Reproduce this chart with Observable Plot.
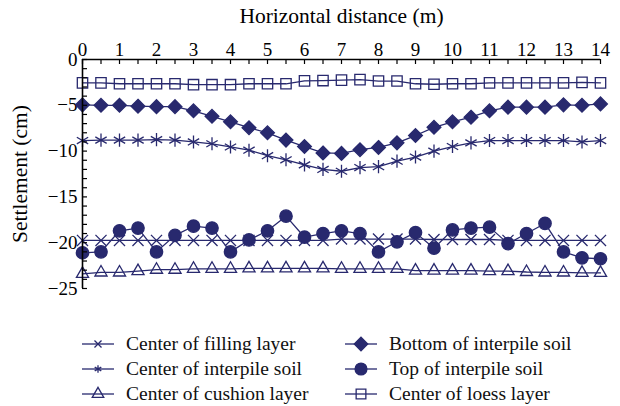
<!DOCTYPE html>
<html>
<head>
<meta charset="utf-8">
<script src="https://cdn.jsdelivr.net/npm/d3@7"></script>
<script src="https://cdn.jsdelivr.net/npm/@observablehq/plot@0.6"></script>
<style>
  html, body { margin: 0; padding: 0; background: #fff; }
  body { width: 620px; height: 406px; overflow: hidden; font-family: "Liberation Serif", "Times New Roman", "DejaVu Serif", serif; }
  #legend { display: grid; grid-template-columns: 263px 270px; grid-auto-rows: 25px; padding-left: 82px; margin-top: 31px; }
  .item { display: flex; align-items: center; font-size: 19.5px; color: #111; white-space: nowrap; }
  .item svg { margin-right: 12px; flex: none; }
  #chart svg text { font-family: "Liberation Serif", "Times New Roman", "DejaVu Serif", serif; }
</style>
</head>
<body>
<div id="chart"></div>
<div id="legend"></div>
<script>
// ---- data ----
const distance = [0,0.5,1,1.5,2,2.5,3,3.5,4,4.5,5,5.5,6,6.5,7,7.5,8,8.5,9,9.5,10,10.5,11,11.5,12,12.5,13,13.5,14];
const centerFillingLayer = [-19.75,-19.75,-19.75,-19.75,-19.75,-19.75,-19.75,-19.75,-19.75,-19.75,-19.75,-19.75,-19.75,-19.75,-19.6,-19.6,-19.6,-19.6,-19.6,-19.65,-19.65,-19.65,-19.65,-19.75,-19.75,-19.75,-19.75,-19.75,-19.75];
const centerInterpileSoil = [-8.85,-8.8,-8.8,-8.8,-8.75,-8.8,-9.0,-9.2,-9.55,-9.9,-10.5,-10.95,-11.5,-12.0,-12.2,-11.8,-11.7,-11.1,-10.65,-10.0,-9.5,-9.1,-8.85,-8.85,-8.85,-8.85,-8.85,-9.0,-8.85];
const centerCushionLayer = [-23.4,-23.25,-23.25,-23.1,-22.95,-22.95,-22.85,-22.85,-22.85,-22.8,-22.8,-22.8,-22.8,-22.8,-22.85,-22.85,-22.85,-22.85,-23.05,-23.05,-23.05,-23.05,-23.1,-23.1,-23.2,-23.25,-23.25,-23.3,-23.3];
const bottomInterpileSoil = [-4.95,-5.0,-5.0,-5.1,-5.15,-5.15,-5.6,-6.2,-6.8,-7.45,-8.0,-8.8,-9.5,-10.2,-10.25,-9.85,-9.6,-9.1,-8.3,-7.4,-6.8,-6.3,-5.6,-5.2,-5.2,-5.2,-4.95,-5.0,-4.85];
const topInterpileSoil = [-21.1,-21.0,-18.7,-18.4,-21.0,-19.2,-18.2,-18.4,-21.0,-19.7,-18.7,-17.1,-19.4,-19.0,-18.7,-19.0,-21.0,-19.9,-18.9,-20.6,-18.6,-18.4,-18.3,-20.1,-19.0,-17.9,-21.0,-21.65,-21.75];
const centerLoessLayer = [-2.55,-2.55,-2.65,-2.65,-2.65,-2.65,-2.75,-2.75,-2.75,-2.65,-2.65,-2.65,-2.33,-2.3,-2.25,-2.2,-2.35,-2.35,-2.65,-2.7,-2.65,-2.65,-2.55,-2.55,-2.55,-2.55,-2.55,-2.5,-2.55];

const seriesNames = ["Center of filling layer","Center of interpile soil","Center of cushion layer","Bottom of interpile soil","Top of interpile soil","Center of loess layer"];
const xTickLabels = [0,1,2,3,4,5,6,7,8,9,10,11,12,13,14];
const xMinorTicks = d3.range(0, 14.01, 0.5);
const yTickLabels = [0,-5,-10,-15,-20,-25];
const yMinorTicks = d3.range(0, -25.01, -1);

// ---- styling ----
const navy = "#28296e";
const serif = "'Liberation Serif', 'Times New Roman', 'DejaVu Serif', serif";
const W = 620, H = 300, ML = 82, MR = 20, MT = 59, MB = 12;
const styles = [
  {symbol: "times",     d3sym: d3.symbolTimes,     r: 5.1, fill: "none", lsize: 34},
  {symbol: "asterisk",  d3sym: d3.symbolAsterisk,  r: 6.2, fill: "none", lsize: 40},
  {symbol: "triangle2", d3sym: d3.symbolTriangle2, r: 5.8, fill: "none", lsize: 95},
  {symbol: "diamond2",  d3sym: d3.symbolDiamond2,  r: 6.2, fill: navy,   lsize: 115},
  {symbol: "circle",    d3sym: d3.symbolCircle,    r: 6.2, fill: navy,   lsize: 110},
  {symbol: "square2",   d3sym: d3.symbolSquare2,   r: 6.6, fill: "none", lsize: 120}
];
const valuesList = [centerFillingLayer, centerInterpileSoil, centerCushionLayer, bottomInterpileSoil, topInterpileSoil, centerLoessLayer];

const marks = [];
valuesList.forEach((vals, i) => {
  const rows = distance.map((x, j) => ({x, y: vals[j], name: seriesNames[i]}));
  marks.push(Plot.line(rows, {x: "x", y: "y", stroke: navy, strokeWidth: 1.3}));
  marks.push(Plot.dot(rows, {x: "x", y: "y", symbol: styles[i].symbol, r: styles[i].r,
    fill: styles[i].fill, stroke: navy, strokeWidth: 1.3}));
});
// inward ticks and axis lines
marks.push(Plot.tickX(xMinorTicks, {x: d => d, stroke: "#000", strokeWidth: 1.2, insetBottom: (H - MT - MB) - 5}));
marks.push(Plot.tickY(yMinorTicks, {y: d => d, stroke: "#000", strokeWidth: 1.2, insetRight: (W - ML - MR) - 5}));
marks.push(Plot.ruleY([0], {stroke: "#000", strokeWidth: 1.6}));
marks.push(Plot.ruleX([0], {stroke: "#000", strokeWidth: 1.6}));

const chart = Plot.plot({
  width: W, height: H,
  marginLeft: ML, marginRight: MR, marginTop: MT, marginBottom: MB,
  style: {fontFamily: serif, fontSize: "19px", color: "#000", background: "#fff", overflow: "visible"},
  x: {domain: [0, 14], axis: "top", ticks: xTickLabels, tickSize: 0, tickPadding: 4,
      label: "Horizontal distance (m)", labelAnchor: "center", labelOffset: 52, labelArrow: "none"},
  y: {domain: [-25, 0], axis: "left", ticks: yTickLabels, tickSize: 0, tickPadding: 5,
      label: "Settlement (cm)", labelAnchor: "center", labelOffset: 71, labelArrow: "none"},
  marks
});
document.getElementById("chart").appendChild(chart);
// enlarge the axis titles slightly (they are larger than tick labels in the reference)
d3.select(chart).selectAll("text").filter(function() {
  return this.textContent === "Horizontal distance (m)" || this.textContent === "Settlement (cm)";
}).style("font-size", "21.5px");

// ---- legend ----
const order = [0, 3, 1, 4, 2, 5];
const legend = d3.select("#legend");
order.forEach(i => {
  const item = legend.append("div").attr("class", "item");
  const svg = item.append("svg").attr("width", 32).attr("height", 20);
  svg.append("line").attr("x1", 0).attr("x2", 32).attr("y1", 10).attr("y2", 10)
    .attr("stroke", navy).attr("stroke-width", 1.3);
  svg.append("path").attr("transform", "translate(16,10)")
    .attr("d", d3.symbol(styles[i].d3sym, styles[i].lsize)())
    .attr("fill", styles[i].fill).attr("stroke", navy).attr("stroke-width", 1.3);
  item.append("span").text(seriesNames[i]);
});
</script>
</body>
</html>
